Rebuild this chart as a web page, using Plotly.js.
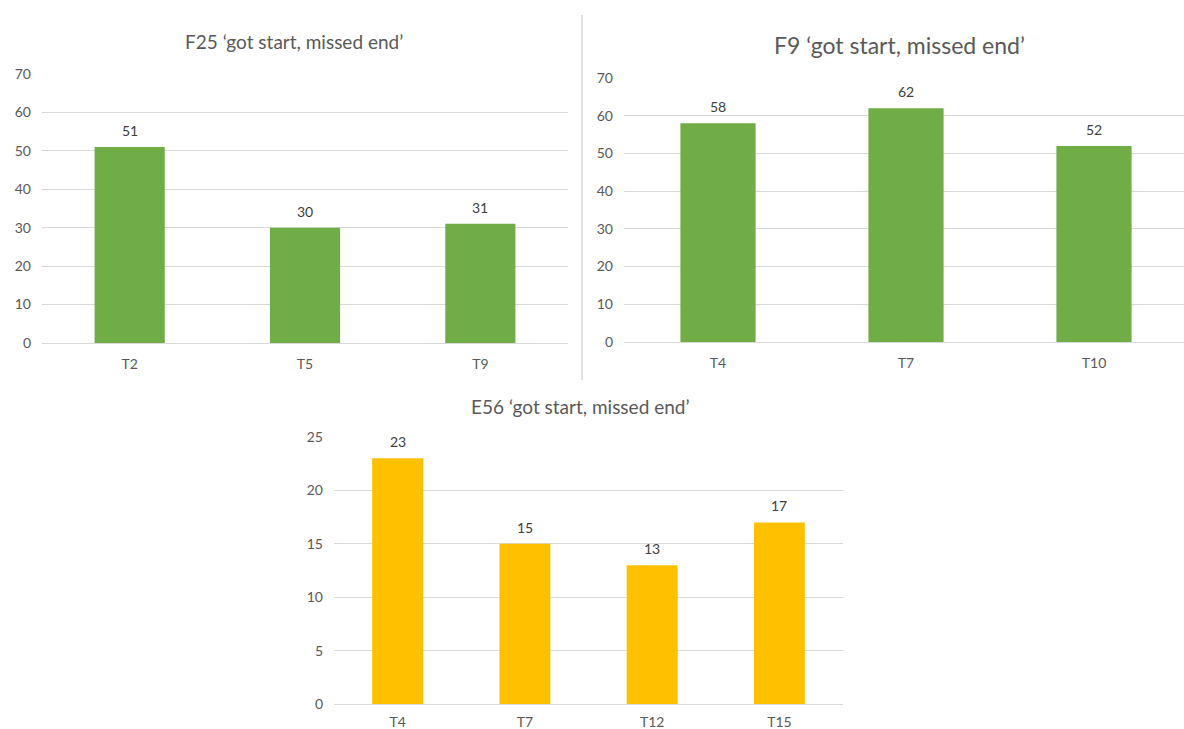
<!DOCTYPE html>
<html>
<head>
<meta charset="utf-8">
<script src="https://cdn.plot.ly/plotly-3.0.1.min.js"></script>
<style>html,body{margin:0;padding:0;background:#fff;}#chart{width:1184px;height:729px;}</style>
</head>
<body>
<div id="chart"></div>
<script>
const titleF25 = "F25 \u2018got start, missed end\u2019";
const catsF25 = ["T2", "T5", "T9"];
const valsF25 = [51, 30, 31];

const titleF9 = "F9 \u2018got start, missed end\u2019";
const catsF9 = ["T4", "T7", "T10"];
const valsF9 = [58, 62, 52];

const titleE56 = "E56 \u2018got start, missed end\u2019";
const catsE56 = ["T4", "T7", "T12", "T15"];
const valsE56 = [23, 15, 13, 17];

const W = 1184, H = 729;
const FONT = "Lato, 'Open Sans', sans-serif";
const GREEN = "#70AD47", YELLOW = "#FFC000", GRID = "#d9d9d9", TXT = "#595959";

function px(x) { return x / W; }
function py(y) { return (H - y) / H; }

const traces = [
  {type: "bar", x: catsF25, y: valsF25, xaxis: "x", yaxis: "y", marker: {color: GREEN}, hoverinfo: "none"},
  {type: "bar", x: catsF9, y: valsF9, xaxis: "x2", yaxis: "y2", marker: {color: GREEN}, hoverinfo: "none"},
  {type: "bar", x: catsE56, y: valsE56, xaxis: "x3", yaxis: "y3", marker: {color: YELLOW}, hoverinfo: "none"}
];

function xax(domain, anchor, range, standoff) {
  return {domain: domain, anchor: anchor, type: "category", range: range, showgrid: false,
    showline: true, linecolor: GRID, linewidth: 1, ticks: "", ticklabelstandoff: standoff,
    tickfont: {family: FONT, size: 14, color: TXT}, fixedrange: true};
}
function yax(domain, anchor, range, dtick) {
  return {domain: domain, anchor: anchor, range: range, dtick: dtick, showgrid: true,
    gridcolor: GRID, gridwidth: 1, zeroline: false, showline: false, ticks: "",
    ticklabelstandoff: 10, tickfont: {family: FONT, size: 14, color: TXT}, fixedrange: true};
}

const annotations = [];
function addLabels(cats, vals, xr, yr) {
  cats.forEach((c, i) => {
    annotations.push({x: c, y: vals[i], xref: xr, yref: yr, text: String(vals[i]),
      showarrow: false, yanchor: "bottom", yshift: 6,
      font: {family: FONT, size: 14, color: "#404040"}});
  });
}
addLabels(catsF25, valsF25, "x", "y");
addLabels(catsF9, valsF9, "x2", "y2");
addLabels(catsE56, valsE56, "x3", "y3");

annotations.push({text: titleF25, xref: "paper", yref: "paper", x: px(294), y: py(41),
  xanchor: "center", yanchor: "middle", showarrow: false, font: {family: FONT, size: 19, color: TXT}});
annotations.push({text: titleF9, xref: "paper", yref: "paper", x: px(899), y: py(45),
  xanchor: "center", yanchor: "middle", showarrow: false, font: {family: FONT, size: 23, color: TXT}});
annotations.push({text: titleE56, xref: "paper", yref: "paper", x: px(580), y: py(406),
  xanchor: "center", yanchor: "middle", showarrow: false, font: {family: FONT, size: 19, color: TXT}});

const layout = {
  width: W, height: H, margin: {l: 0, r: 0, t: 0, b: 0},
  paper_bgcolor: "#fff", plot_bgcolor: "rgba(0,0,0,0)", showlegend: false, bargap: 0.6,
  font: {family: FONT, color: TXT},
  xaxis: xax([px(42), px(568)], "y", [-0.5, 2.5], 8),
  yaxis: yax([py(343), py(74)], "x", [0, 70], 10),
  xaxis2: xax([px(624), 1], "y2", [-0.5, 2.5 - 4 / 188], 8),
  yaxis2: yax([py(342), py(78)], "x2", [0, 70], 10),
  xaxis3: xax([px(334), px(843)], "y3", [-0.5, 3.5], 5),
  yaxis3: yax([py(704), py(437)], "x3", [0, 25], 5),
  annotations: annotations,
  shapes: [{type: "line", xref: "paper", yref: "paper", x0: px(582), x1: px(582), y0: py(15), y1: py(380),
    line: {color: GRID, width: 1.5}}]
};

Plotly.newPlot("chart", traces, layout, {staticPlot: true, displayModeBar: false});
</script>
</body>
</html>
